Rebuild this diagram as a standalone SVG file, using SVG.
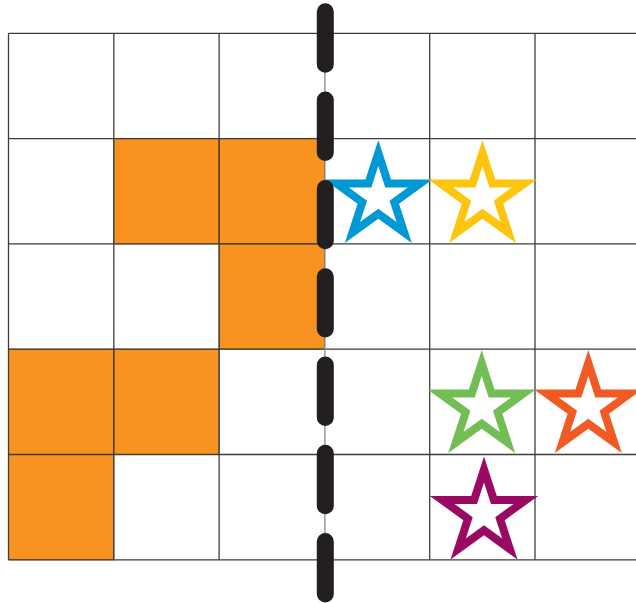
<svg xmlns="http://www.w3.org/2000/svg" xmlns:xlink="http://www.w3.org/1999/xlink" width="636" height="603" viewBox="0 0 636 603">
  <style>
    .cell { fill: #f7931e; stroke: #6b4a1e; stroke-width: 0.8; }
    .grid { stroke: #3d3d3d; stroke-width: 1.3; fill: none; }
    .dash { stroke: #231f20; stroke-width: 17; stroke-linecap: round; stroke-dasharray: 52.4 35.9; fill: none; }
    .star { fill-rule: evenodd; }
  </style>
  <defs>
    <path id="star" d="M0,-57L12.8,-17.61L54.21,-17.61L20.7,6.73L33.5,46.11L0,21.77L-33.5,46.11L-20.7,6.73L-54.21,-17.61L-12.8,-17.61Z M0,-31L6.96,-9.58L29.48,-9.58L11.26,3.66L18.22,25.08L0,11.84L-18.22,25.08L-11.26,3.66L-29.48,-9.58L-6.96,-9.58Z"/>
  </defs>
  <rect width="636" height="603" fill="#ffffff"/>

  <g id="filled-cells">
    <rect class="cell" x="113.8" y="138.6" width="105.3" height="105.3"/>
    <rect class="cell" x="219.1" y="138.6" width="105.3" height="105.3"/>
    <rect class="cell" x="219.1" y="243.9" width="105.3" height="105.3"/>
    <rect class="cell" x="8.5" y="349.2" width="105.3" height="105.3"/>
    <rect class="cell" x="113.8" y="349.2" width="105.3" height="105.3"/>
    <rect class="cell" x="8.5" y="454.5" width="105.3" height="105.3"/>
  </g>

  <g id="grid" class="grid">
    <line x1="8.5" y1="33.3" x2="636" y2="33.3"/>
    <line x1="8.5" y1="138.6" x2="636" y2="138.6"/>
    <line x1="8.5" y1="243.9" x2="636" y2="243.9"/>
    <line x1="8.5" y1="349.2" x2="636" y2="349.2"/>
    <line x1="8.5" y1="454.5" x2="636" y2="454.5"/>
    <line x1="8.5" y1="559.8" x2="636" y2="559.8"/>
    <line x1="8.5" y1="33.3" x2="8.5" y2="559.8"/>
    <line x1="113.8" y1="33.3" x2="113.8" y2="559.8"/>
    <line x1="219.1" y1="33.3" x2="219.1" y2="559.8"/>
    <line x1="324.9" y1="33.3" x2="324.9" y2="559.8" stroke="#888"/>
    <line x1="429.7" y1="33.3" x2="429.7" y2="559.8"/>
    <line x1="535" y1="33.3" x2="535" y2="559.8"/>
  </g>

  <g id="star-blue"><use xlink:href="#star" href="#star" class="star" fill="#0099d5" transform="translate(378.3,197)"/></g>
  <g id="star-yellow"><use xlink:href="#star" href="#star" class="star" fill="#ffc40d" transform="translate(482.5,197)"/></g>
  <g id="star-green"><use xlink:href="#star" href="#star" class="star" fill="#72be54" transform="translate(481.7,407)"/></g>
  <g id="star-orange"><use xlink:href="#star" href="#star" class="star" fill="#f15a22" transform="translate(588.3,407)"/></g>
  <g id="star-purple"><use xlink:href="#star" href="#star" class="star" fill="#9b0a62" transform="translate(484,513.5)"/></g>

  <g id="mirror-line">
    <line class="dash" x1="325.3" y1="11.8" x2="325.3" y2="594"/>
  </g>
</svg>
